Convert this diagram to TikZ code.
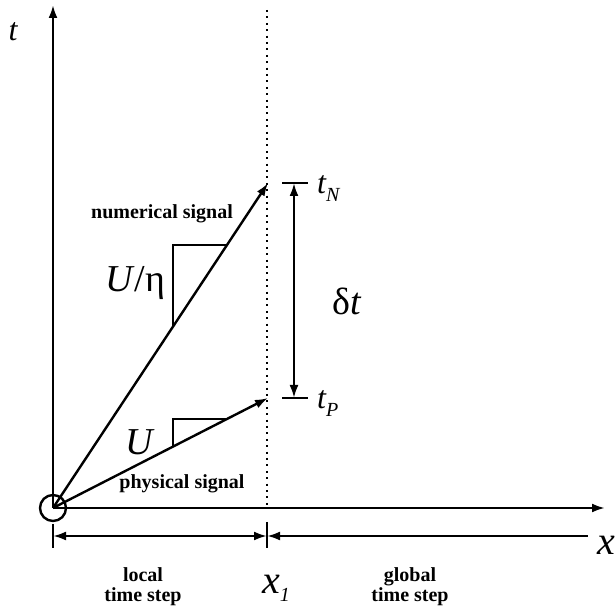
\documentclass[tikz,border=0pt]{standalone}
\usepackage{fontspec}
\setmainfont{Liberation Serif}
\usetikzlibrary{arrows.meta,calc}
\newcommand{\sub}[1]{\raisebox{-4pt}{\fontsize{10}{10}\selectfont\itshape #1}}

\begin{document}
\begin{tikzpicture}[
  x=0.5pt, y=0.5pt, line width=1.2pt, >={Latex[length=6.5pt,width=4.5pt]},
  lbl/.style={font=\bfseries\fontsize{10}{10}\selectfont,align=center,inner sep=0pt},
  sym/.style={font=\itshape\fontsize{16}{16}\selectfont,inner sep=0pt},
  big/.style={font=\fontsize{19}{19}\selectfont,inner sep=0pt},
  tick/.style={line width=1.2pt}
]
\useasboundingbox (0,0) rectangle (616,616);
% axes
\coordinate (O) at (53,108);
\coordinate (ttop) at (53,611);
\coordinate (xend) at (605,108);
\draw[->] (O) -- (ttop);
\draw[->] (O) -- (xend);
\draw (O) circle[radius=13];
\node[sym] (tlab) at (13,584) {t};
\node[font=\itshape\fontsize{20}{20}\selectfont,inner sep=0pt] (xlab) at (606,71) {x};
% boundary x_1
\coordinate (btop) at (267,606);
\coordinate (bbot) at (267,108);
\draw[line width=1pt,dash pattern=on 1pt off 2.2pt] (btop) -- (bbot);
% signals
\coordinate (N) at (268,433);
\coordinate (P) at (268,218);
\draw[->] (O) -- (N);
\draw[->] (O) -- (P);
\draw ($(O)!0.558!(N)$) |- ($(O)!0.809!(N)$);
\draw ($(O)!0.558!(P)$) |- ($(O)!0.809!(P)$);
\node[lbl] (num) at (162,402) {numerical signal};
\node[lbl] (phy) at (182,132) {physical signal};
\node[big] (slopeN) at (135,333) {\textit{U}/η};
\node[big] (slopeP) at (140,174) {\textit{U}};
% delta t
\coordinate (tN) at (294,433);
\coordinate (tP) at (294,218);
\draw[tick] ($(tN)+(-12,0)$) -- ($(tN)+(14,0)$);
\draw[tick] ($(tP)+(-12,0)$) -- ($(tP)+(14,0)$);
\draw[<->] (tN) -- (tP);
\node[sym,anchor=west] (lN) at (316,428) {t\sub{N}};
\node[sym,anchor=west] (lP) at (316,213) {t\sub{P}};
\node[big] (dt) at (347,315) {δ\textit{t}};
% time steps
\coordinate (d0) at (53,80);
\coordinate (d1) at (267,80);
\coordinate (d2) at (588,80);
\draw[tick] ($(d0)+(0,12)$) -- ($(d0)+(0,-12)$);
\draw[tick] ($(d1)+(0,14)$) -- ($(d1)+(0,-12)$);
\draw[<->] (d0) -- (d1);
\draw[<-] (d1) -- (d2);
\node[font=\itshape\fontsize{20}{20}\selectfont,inner sep=0pt] (x1) at (276,28) {x\sub{1}};
\node[lbl] (loc) at (143,29) {local\\time step};
\node[lbl] (glob) at (410,29) {global\\time step};
\end{tikzpicture}
\end{document}
